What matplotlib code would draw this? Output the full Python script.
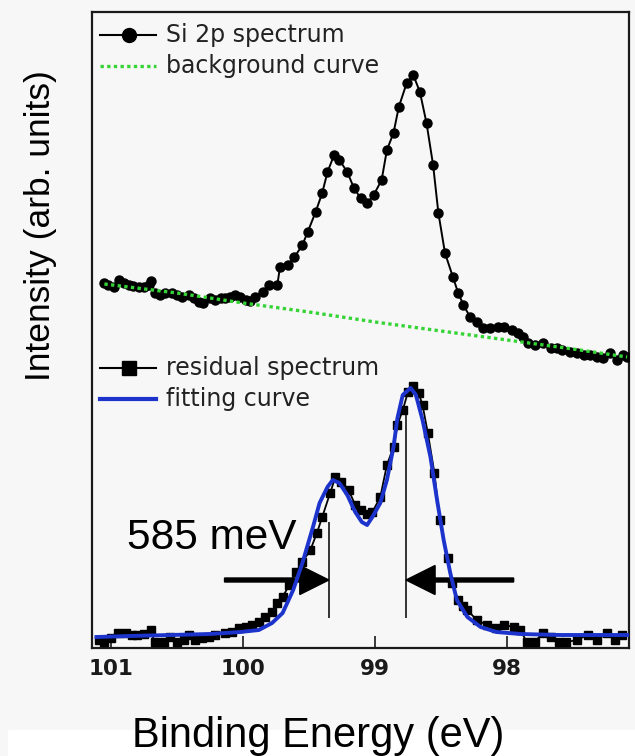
import matplotlib
matplotlib.use("Agg")
import matplotlib.pyplot as plt
from matplotlib.patches import Rectangle

# Si 2p spectrum (upper trace), binding energy in eV / intensity in arb. units
si_energy = [101.05, 101.02, 100.98, 100.94, 100.90, 100.86, 100.83, 100.79, 100.75, 100.71,
             100.70, 100.67, 100.63, 100.59, 100.54, 100.50, 100.46, 100.41, 100.37, 100.33,
             100.30, 100.25, 100.21, 100.17, 100.14, 100.10, 100.06, 100.02, 99.98, 99.95,
             99.91, 99.85, 99.80, 99.74, 99.72, 99.66, 99.61, 99.55, 99.51, 99.45,
             99.40, 99.36, 99.31, 99.27, 99.21, 99.16, 99.11, 99.06, 99.01, 98.95,
             98.91, 98.86, 98.82, 98.76, 98.71, 98.66, 98.61, 98.56, 98.52, 98.47,
             98.41, 98.37, 98.33, 98.28, 98.23, 98.18, 98.13, 98.07, 98.02, 97.96,
             97.92, 97.88, 97.84, 97.79, 97.73, 97.67, 97.62, 97.58, 97.52, 97.47,
             97.42, 97.37, 97.32, 97.27, 97.22, 97.17, 97.12, 97.09]
si_counts = [365, 363, 361, 368, 365, 363, 362, 361, 361, 363,
             367, 355, 353, 355, 355, 353, 351, 353, 350, 346,
             345, 350, 348, 350, 350, 351, 353, 351, 348, 347,
             351, 356, 363, 363, 381, 383, 391, 403, 416, 436,
             455, 476, 493, 488, 476, 460, 450, 445, 453, 468,
             498, 515, 541, 565, 573, 556, 525, 483, 435, 395,
             371, 355, 343, 331, 326, 320, 320, 321, 321, 318,
             315, 311, 305, 303, 305, 300, 300, 298, 296, 295,
             293, 293, 291, 290, 295, 288, 293, 291]

# background curve
bg_energy = [101.05, 100.5, 100.0, 99.5, 99.0, 98.5, 98.0, 97.5, 97.09]
bg_counts = [364, 355, 345, 336, 326, 317, 308, 299, 291]

# residual spectrum (lower trace)
res_energy = [101.09, 101.05, 101.00, 100.95, 100.89, 100.84, 100.80, 100.75, 100.70, 100.67,
              100.60, 100.55, 100.50, 100.45, 100.41, 100.36, 100.31, 100.26, 100.21, 100.14,
              100.08, 100.03, 99.98, 99.93, 99.88, 99.83, 99.78, 99.74, 99.70, 99.65,
              99.60, 99.55, 99.49, 99.44, 99.40, 99.34, 99.30, 99.26, 99.20, 99.15,
              99.11, 99.06, 99.02, 98.96, 98.91, 98.86, 98.83, 98.79, 98.75, 98.71,
              98.67, 98.64, 98.60, 98.55, 98.51, 98.45, 98.42, 98.37, 98.33, 98.30,
              98.23, 98.15, 98.08, 98.02, 97.95, 97.90, 97.85, 97.79, 97.73, 97.67,
              97.61, 97.55, 97.47, 97.39, 97.32, 97.24, 97.18, 97.13]
res_counts = [8, 6, 10, 15, 15, 13, 13, 14, 18, 6,
              6, 11, 6, 8, 13, 8, 10, 11, 13, 15,
              16, 20, 21, 23, 26, 31, 36, 45, 51, 63,
              76, 86, 98, 115, 131, 155, 171, 166, 158, 143,
              138, 134, 136, 151, 183, 201, 223, 238, 256, 262,
              255, 243, 215, 175, 128, 90, 65, 48, 42, 38,
              28, 23, 20, 23, 21, 18, 6, 6, 15, 11,
              6, 6, 8, 13, 8, 15, 8, 13]

# fitting curve
fit_energy = [101.11, 100.86, 100.55, 100.25, 100.02, 99.88, 99.78, 99.70, 99.62, 99.55,
              99.47, 99.42, 99.36, 99.32, 99.27, 99.21, 99.15, 99.10, 99.06, 99.02,
              98.96, 98.91, 98.86, 98.83, 98.79, 98.73, 98.69, 98.64, 98.58, 98.53,
              98.48, 98.43, 98.38, 98.30, 98.20, 98.08, 97.90, 97.60, 97.30, 97.08]
fit_counts = [11, 12, 13, 14, 16, 18, 25, 35, 58, 85,
              121, 145, 161, 168, 165, 153, 136, 126, 123, 131,
              145, 168, 201, 230, 253, 260, 253, 228, 191, 148,
              108, 75, 48, 31, 21, 16, 14, 13, 13, 13]

peak_pos = [99.35, 98.765]     # 585 meV apart
peak_top = [126, 238]
ticks = [101, 100, 99, 98]

bg = '#f7f7f7'
fig = plt.figure(figsize=(6.35, 7.56), dpi=100)
fig.patch.set_facecolor(bg)
fig.add_artist(Rectangle((8 / 635, 0), 1, 26 / 756, transform=fig.transFigure,
                         color='white', zorder=0))

ax = fig.add_axes([92 / 635, 1 - 648 / 756, 537 / 635, 636 / 756])
ax.set_facecolor(bg)

ax.plot(si_energy, si_counts, '-o', color='black', ms=6.5, lw=1.4, zorder=3)
ax.plot(bg_energy, bg_counts, ls=(0, (1, 1)), color='#35d435', lw=2.4, zorder=4)
ax.plot(res_energy, res_counts, '-s', color='black', ms=6.3, lw=1.3, zorder=3)
ax.plot(fit_energy, fit_counts, color='#1c33cc', lw=2.8, zorder=5)

ax.vlines(peak_pos, 30, peak_top, color='black', lw=1.1, zorder=4)
ax.arrow(100.14, 68, peak_pos[0] - 100.14, 0, width=4, head_width=29, head_length=0.22,
         length_includes_head=True, color='black', zorder=4)
ax.arrow(97.95, 68, peak_pos[1] - 97.95, 0, width=4, head_width=29, head_length=0.22,
         length_includes_head=True, color='black', zorder=4)
ax.text(100.88, 99, '585 meV', fontsize=30.5, family='Liberation Sans',
        ha='left', va='baseline')

# legends, drawn by hand
def legend_row(y, label, **style):
    ax.plot([0.015, 0.069, 0.119], [y, y, y], transform=ax.transAxes,
            clip_on=False, markevery=[1], **style)
    ax.text(0.138, y, label, transform=ax.transAxes, va='center',
            fontsize=17, family='DejaVu Sans', color='#222222')

legend_row(0.964, 'Si 2p spectrum', color='black', lw=1.5, marker='o', ms=10)
legend_row(0.915, 'background curve', color='#35d435', lw=2.4, ls=(0, (1, 1)))
legend_row(0.440, 'residual spectrum', color='black', lw=1.5, marker='s', ms=10)
legend_row(0.3915, 'fitting curve', color='#1c33cc', lw=3)

ax.set_xlim(101.144, 97.076)
ax.set_ylim(0, 636)
ax.set_xticks(ticks)
ax.set_xticklabels([str(t) for t in ticks], family='DejaVu Sans', fontweight='bold')
ax.set_yticks([])
ax.tick_params(axis='x', direction='in', length=9, width=1.2, pad=8,
               labelsize=15.5, colors='#1a1a1a')
for s in ax.spines.values():
    s.set_linewidth(1.6)
    s.set_color('#1a1a1a')

fig.text(41 / 635, 1 - 226 / 756, 'Intensity (arb. units)', rotation=90,
         fontsize=25.5, family='Liberation Sans', ha='center', va='center')
fig.text(318 / 635, 1 - 736 / 756, 'Binding Energy (eV)',
         fontsize=30, family='Liberation Sans', ha='center', va='center')

fig.savefig('out.png', dpi=100, facecolor=bg)
